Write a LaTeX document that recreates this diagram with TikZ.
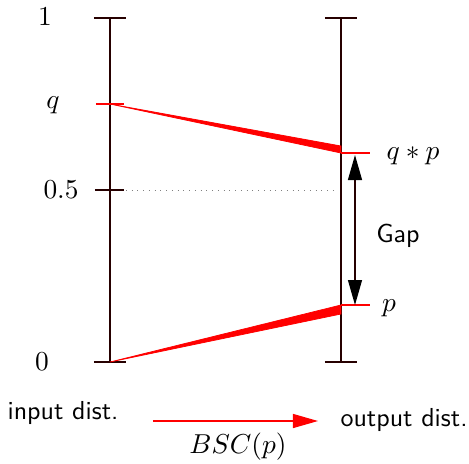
\documentclass[tikz,border=0pt]{standalone}
\usetikzlibrary{arrows.meta}
\newcommand\myfs{\fontsize{10.4pt}{12.5pt}\selectfont}
\newcommand\mymfs{\fontsize{11.2pt}{13.5pt}\selectfont}
\begin{document}
\begin{tikzpicture}[x=0.4pt,y=-0.4pt,
  axis/.style={line width=0.55pt,black!85!red},
  redtick/.style={red,line width=0.45pt},
  wedge/.style={fill=red,draw=red,line width=0.3pt},
  bigtip/.style={-{Triangle[length=10pt,width=5.6pt]}},
  lbl/.style={inner sep=0pt,font=\mymfs},
  sflbl/.style={inner sep=0pt,font=\myfs\sffamily}]
\useasboundingbox (0,0) rectangle (469,463);
% axes
\coordinate (LT) at (110,18); \coordinate (LB) at (110,362);
\coordinate (RT) at (341,18); \coordinate (RB) at (341,362);
\draw[axis] (LT) -- (LB);
\draw[axis] (RT) -- (RB);
\draw[axis] (94,18) -- (126,18);
\draw[axis] (94,362) -- (126,362);
\draw[axis] (325,18) -- (357,18);
\draw[axis] (325,362) -- (357,362);
\draw[axis] (95,190) -- (124,190);
% half line
\coordinate (HL) at (126,190); \coordinate (HR) at (338,190);
\draw[dotted,gray,line width=0.3pt] (HL) -- (HR);
% red ticks
\coordinate (Q) at (110,104);
\coordinate (QP) at (341,153);
\coordinate (P) at (341,305);
\draw[redtick] (96,104) -- (124,104);
\draw[redtick] (QP) -- (370,153);
\draw[redtick] (P) -- (370,305);
% wedges
\draw[wedge] (Q) -- (341,146) -- (QP) -- cycle;
\draw[wedge] (LB) -- (P) -- (341,314) -- cycle;
% gap arrow
\coordinate (G1) at (355,155); \coordinate (G2) at (355,305);
\draw[line width=0.5pt,black!85!red,{Triangle[length=10pt,width=5.6pt,black]}-{Triangle[length=10pt,width=5.6pt,black]}] (G1) -- (G2);
% labels
\node[lbl] (l1) at (45,17) {$1$};
\node[lbl] (lq) at (53,105) {$q$};
\node[lbl] (lh) at (61,190) {$0.5$};
\node[lbl] (l0) at (42,362) {$0$};
\node[lbl] (lqp) at (413,156) {$q*p$};
\node[lbl] (lp) at (389,308) {$p$};
\node[sflbl] (gap) at (398,236) {Gap};
\node[sflbl] (in) at (63,413) {input dist.};
\node[sflbl] (out) at (404,420) {output dist.};
\node[lbl] (bsc) at (238,447) {$BSC(p)$};
\coordinate (A1) at (153,421); \coordinate (A2) at (318,421);
\draw[red,line width=0.5pt,bigtip] (A1) -- (A2);
\end{tikzpicture}
\end{document}
